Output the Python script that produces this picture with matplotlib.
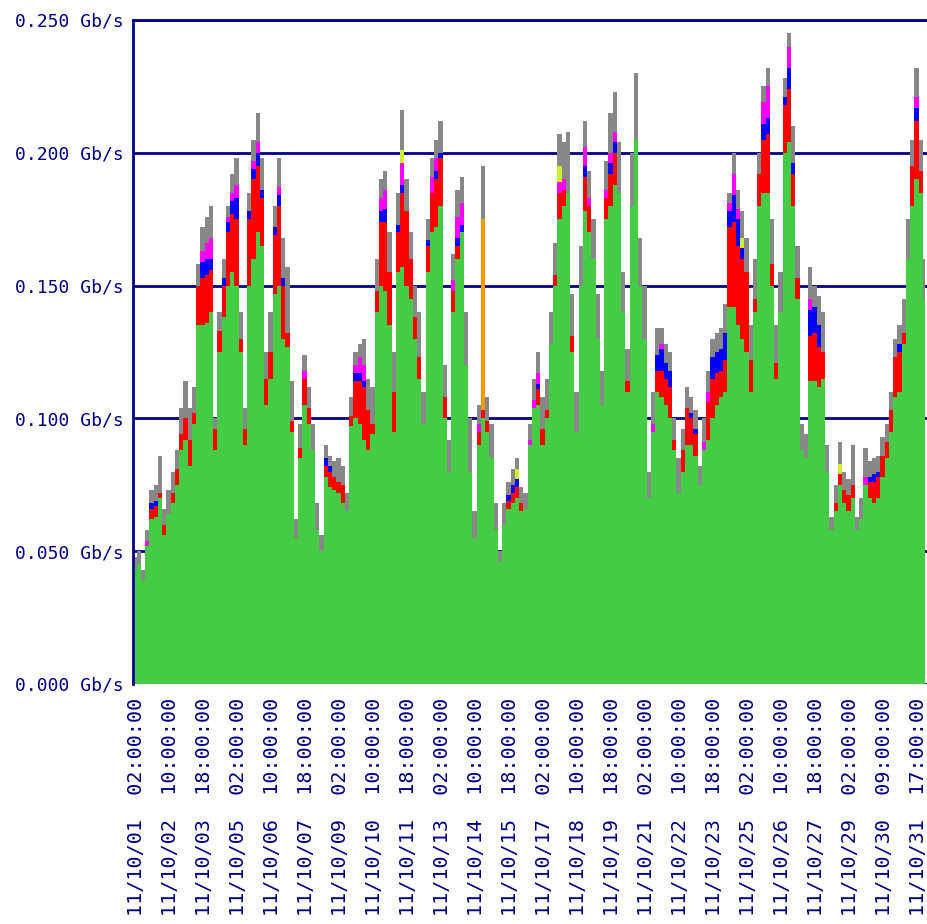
import numpy as np
import matplotlib.pyplot as plt

# one sample every 4 hours from 11/10/01 00:00 (Gb/s per stacked layer)
green = [
    .043, .045, .039, .052, .062, .063, .070, .056, .064, .068,
    .075, .088, .092, .082, .098, .135, .135, .136, .140, .088,
    .125, .138, .150, .155, .150, .125, .090, .150, .160, .170,
    .165, .105, .115, .147, .150, .130, .127, .095, .055, .085,
    .105, .098, .088, .058, .050, .078, .074, .073, .072, .068,
    .065, .097, .100, .098, .092, .088, .094, .140, .150, .148,
    .135, .095, .155, .157, .150, .145, .130, .115, .098, .155,
    .170, .172, .180, .100, .080, .140, .160, .170, .120, .080,
    .055, .090, .100, .095, .085, .058, .046, .060, .066, .068,
    .070, .065, .066, .090, .104, .105, .090, .100, .128, .150,
    .175, .180, .185, .125, .095, .150, .178, .170, .160, .130,
    .105, .175, .180, .188, .185, .140, .110, .180, .205, .150,
    .130, .070, .095, .110, .108, .105, .100, .088, .072, .080,
    .090, .090, .086, .075, .088, .092, .100, .105, .108, .110,
    .142, .142, .135, .130, .125, .110, .140, .180, .185, .185,
    .150, .115, .140, .200, .204, .180, .145, .088, .085, .114,
    .114, .112, .115, .080, .058, .065, .075, .068, .065, .070,
    .058, .062, .075, .070, .068, .070, .078, .085, .095, .108,
    .110, .128, .160, .180, .190, .185, .145,
]
red = [
    0, 0, 0, 0, .004, .004, .002, .004, 0, .004,
    .006, .006, .008, .010, .004, .015, .018, .018, .016, .008,
    .008, .012, .020, .022, .025, .005, .006, .025, .030, .025,
    .018, .010, .010, .022, .030, .020, .005, .004, 0, .004,
    .010, .006, 0, 0, 0, .004, .006, .005, .004, .007,
    0, .004, .014, .016, .020, .015, .004, .008, .024, .026,
    .020, .015, .015, .028, .028, .015, .008, .008, 0, .010,
    .015, .018, .018, .008, 0, .008, .005, 0, 0, 0,
    0, .005, .003, .004, 0, 0, 0, 0, .003, .004,
    .004, .003, 0, 0, 0, .006, .006, .003, 0, .004,
    .010, .006, 0, .006, 0, 0, .013, .010, 0, 0,
    0, .008, .012, .012, 0, 0, .004, 0, 0, 0,
    0, 0, 0, .008, .010, .010, .012, .004, 0, .008,
    .014, .010, .008, 0, 0, .014, .015, .012, .010, .012,
    .030, .032, .030, .030, .030, .012, .005, .012, .020, .022,
    .008, .006, 0, .018, .020, .012, .008, 0, 0, .017,
    .018, .015, .010, 0, 0, .003, .004, .005, .006, .005,
    0, 0, 0, .006, .008, .008, .008, .006, .008, .015,
    .015, .004, 0, .015, .022, .008, 0,
]
blue = [
    0, 0, 0, 0, .002, .002, 0, 0, 0, 0,
    0, 0, 0, 0, 0, 0, .006, .006, .004, 0,
    0, .003, .004, .005, .008, 0, 0, .003, .004, .005,
    .003, 0, 0, .003, .004, .003, 0, 0, 0, 0,
    0, 0, 0, 0, 0, .003, .002, 0, 0, 0,
    0, 0, .003, .003, .002, 0, 0, 0, .004, .005,
    0, 0, .003, .003, 0, 0, 0, 0, 0, .002,
    0, .003, .002, 0, 0, 0, .003, .003, 0, 0,
    0, 0, 0, 0, 0, 0, 0, 0, .002, .003,
    .003, 0, 0, 0, 0, .002, 0, 0, 0, 0,
    0, 0, 0, 0, 0, 0, .004, 0, 0, 0,
    0, 0, .004, .004, 0, 0, 0, 0, 0, 0,
    0, 0, 0, .006, .008, .006, .006, 0, 0, 0,
    0, .002, .002, 0, 0, 0, .008, .008, .008, .010,
    .006, .010, .010, .004, 0, 0, 0, 0, .006, .006,
    0, 0, 0, .003, .008, .004, 0, 0, 0, .010,
    .010, .008, 0, 0, 0, 0, 0, 0, 0, 0,
    0, 0, 0, .002, .003, .002, 0, 0, 0, 0,
    .003, 0, 0, 0, .005, 0, 0,
]
magenta = [
    0, 0, 0, .002, 0, 0, 0, 0, 0, 0,
    0, 0, 0, 0, 0, 0, .004, .006, .008, 0,
    0, 0, .002, .003, .005, 0, 0, 0, .003, .004,
    0, 0, 0, 0, .003, 0, 0, 0, 0, 0,
    .003, 0, 0, 0, 0, 0, 0, 0, 0, 0,
    0, 0, .003, .006, .006, 0, 0, 0, .005, .007,
    0, 0, 0, .008, 0, 0, 0, 0, 0, 0,
    .006, .005, 0, 0, 0, .004, .008, .008, 0, 0,
    0, .003, 0, 0, 0, 0, 0, 0, 0, 0,
    0, 0, 0, .002, .003, .004, 0, 0, 0, 0,
    .004, .004, 0, 0, 0, 0, .007, .003, 0, 0,
    0, .003, .004, .004, 0, 0, 0, 0, 0, 0,
    0, 0, .003, 0, .002, 0, 0, 0, 0, 0,
    0, 0, 0, 0, .003, .004, 0, 0, 0, 0,
    .003, .008, .004, 0, 0, 0, 0, 0, .008, .012,
    0, 0, 0, 0, .008, 0, 0, 0, 0, .004,
    0, 0, 0, 0, 0, 0, 0, 0, 0, 0,
    0, 0, .003, 0, 0, 0, 0, 0, 0, 0,
    0, 0, 0, 0, .004, 0, 0,
]
gray = [
    .005, .005, .004, .004, .005, .006, .014, .006, .009, .008,
    .007, .010, .014, .012, .010, .008, .009, .010, .012, .004,
    .007, .007, .004, .007, .010, .010, .008, .007, .008, .011,
    .012, .010, .015, .008, .011, .015, .025, .015, .007, .009,
    .006, .008, .010, .010, .006, .005, .004, .006, .009, .007,
    .007, .007, .005, .005, .010, .012, .014, .012, .007, .007,
    .015, .015, .012, .015, .012, .010, .012, .017, .012, .008,
    .007, .007, .012, .012, .012, .010, .010, .010, .020, .020,
    .010, .007, .020, .009, .013, .010, .004, .008, .005, .006,
    .004, .006, .006, .006, .008, .008, .012, .012, .012, .012,
    .012, .014, .023, .016, .015, .015, .010, .010, .015, .017,
    .013, .011, .015, .015, .019, .015, .012, .020, .025, .018,
    .020, .010, .012, .010, .006, .007, .007, .008, .013, .008,
    .008, .006, .007, .007, .009, .008, .007, .007, .008, .011,
    .004, .008, .007, .010, .013, .013, .015, .008, .006, .007,
    .017, .014, .015, .007, .005, .014, .012, .010, .009, .012,
    .008, .011, .015, .010, .005, .007, .008, .007, .006, .015,
    .005, .008, .011, .006, .006, .006, .007, .007, .007, .007,
    .007, .013, .015, .010, .011, .012, .015,
]
# sparse layers: (sample index, value)
orange_pts = [(82, .072)]
lime_pts = [(63, .005), (90, .004), (100, .006), (143, .004), (166, .004)]

tick_labels = [
    "11/10/01  02:00:00", "11/10/02  10:00:00", "11/10/03  18:00:00",
    "11/10/05  02:00:00", "11/10/06  10:00:00", "11/10/07  18:00:00",
    "11/10/09  02:00:00", "11/10/10  10:00:00", "11/10/11  18:00:00",
    "11/10/13  02:00:00", "11/10/14  10:00:00", "11/10/15  18:00:00",
    "11/10/17  02:00:00", "11/10/18  10:00:00", "11/10/19  18:00:00",
    "11/10/21  02:00:00", "11/10/22  10:00:00", "11/10/23  18:00:00",
    "11/10/25  02:00:00", "11/10/26  10:00:00", "11/10/27  18:00:00",
    "11/10/29  02:00:00", "11/10/30  09:00:00", "11/10/31  17:00:00",
]
ytick_vals = [0.0, 0.05, 0.10, 0.15, 0.20, 0.25]
ytick_labels = ["0.000 Gb/s", "0.050 Gb/s", "0.100 Gb/s",
                "0.150 Gb/s", "0.200 Gb/s", "0.250 Gb/s"]

n = len(green)
hours = np.arange(n) * 4
orange = np.zeros(n)
for i, v in orange_pts:
    orange[i] = v
lime = np.zeros(n)
for i, v in lime_pts:
    lime[i] = v

navy = '#000080'
fig = plt.figure(figsize=(9.27, 9.24), dpi=100)
ax = fig.add_axes([133 / 927, 1 - 684 / 924, 1 - 133 / 927, 664 / 924])

layers = [(green, '#44cc44'), (red, '#ff0000'), (blue, '#0000ff'),
          (magenta, '#ff00ff'), (orange, '#ff9900'), (lime, '#ccee33'),
          (gray, '#888888')]
base = np.zeros(n)
for vals, col in layers:
    top = base + np.asarray(vals, dtype=float)
    ax.fill_between(hours, base, top, step='mid', color=col, linewidth=0,
                    antialiased=False, zorder=2)
    base = top

ax.set_xlim(-1.5, 746)
ax.set_ylim(0, 0.25)
ax.set_yticks(ytick_vals)
ax.set_yticklabels(ytick_labels)
ax.set_xticks(2 + 32 * np.arange(len(tick_labels)))
ax.set_xticklabels(tick_labels, rotation=90)

ax.set_axisbelow(True)
ax.yaxis.grid(True, color=navy, linewidth=2)
ax.xaxis.grid(False)
for side in ['right', 'bottom']:
    ax.spines[side].set_visible(False)
for side in ['left', 'top']:
    ax.spines[side].set_color(navy)
    ax.spines[side].set_linewidth(2)

ax.tick_params(axis='y', length=0, pad=7, labelcolor=navy, labelsize=13)
ax.tick_params(axis='x', length=0, pad=10, labelcolor=navy, labelsize=14.5)
for lab in ax.get_xticklabels() + ax.get_yticklabels():
    lab.set_family('DejaVu Sans Mono')

fig.savefig('out.png', dpi=100, facecolor='white')
